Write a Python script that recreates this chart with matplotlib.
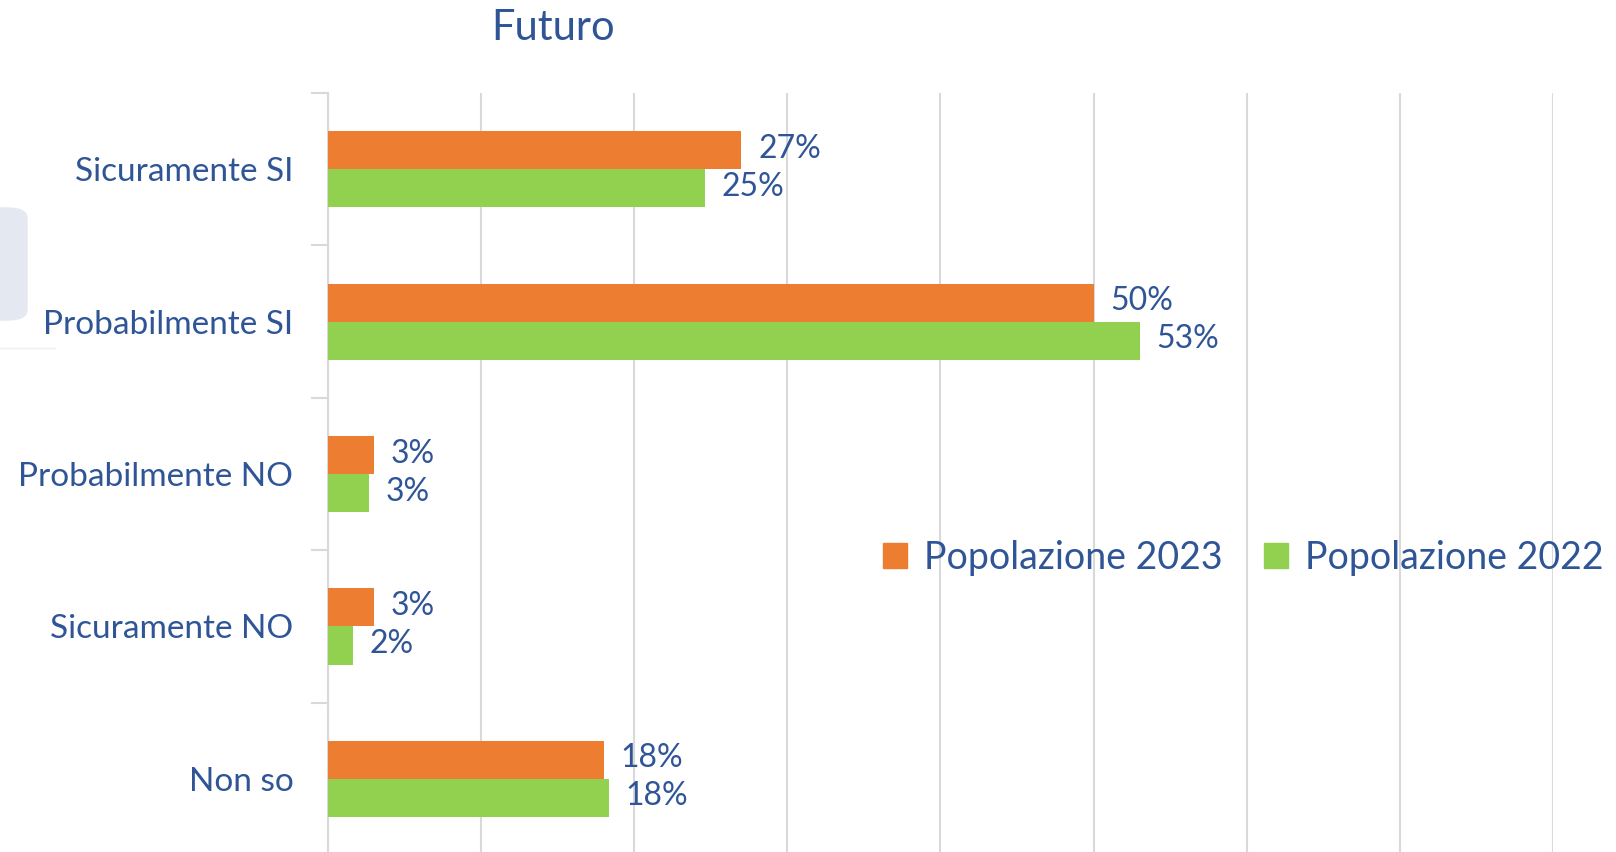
import matplotlib.pyplot as plt
from matplotlib.patches import FancyBboxPatch, Rectangle
from matplotlib.lines import Line2D

categories = ["Sicuramente SI", "Probabilmente SI", "Probabilmente NO", "Sicuramente NO", "Non so"]
pop_2023 = [27.0, 50.0, 3.0, 3.0, 18.0]
pop_2022 = [24.6, 53.0, 2.7, 1.6, 18.35]
series_names = ["Popolazione 2023", "Popolazione 2022"]

orange = '#ED7D31'
green = '#92D050'
txt_col = '#2F5597'
font = 'Lato'

fig = plt.figure(figsize=(16.16, 8.52), dpi=100)
ax = fig.add_axes([328 / 1616, 1 - 855 / 852, (1553 - 328) / 1616, 762 / 852])

y = list(range(len(categories)))
h = 0.25
b1 = ax.barh([v - h / 2 for v in y], pop_2023, height=h, color=orange, zorder=3)
b2 = ax.barh([v + h / 2 for v in y], pop_2022, height=h, color=green, zorder=3)

for bars in (b1, b2):
    for r in bars:
        w = r.get_width()
        ax.annotate(f"{w:.0f}%", (w, r.get_y() + r.get_height() / 2),
                    xytext=(12, 1), textcoords='offset points',
                    va='center', ha='left', fontsize=23, color=txt_col, family=font)

ax.set_xlim(0, 80)
ax.set_ylim(4.5, -0.5)
ax.set_xticks(range(0, 81, 10))
ax.xaxis.grid(True, color='#D9D9D9', linewidth=1.5, zorder=0)
ax.tick_params(axis='x', length=0, labelbottom=False)
ax.set_yticks(y)
ax.set_yticklabels(categories, fontsize=24, color=txt_col, family=font)
for lbl in ax.get_yticklabels():
    lbl.set_y(lbl.get_position()[1])
ax.set_yticks([v - 0.5 for v in y] + [4.5], minor=True)
ax.tick_params(axis='y', which='major', length=0, pad=25)
ax.tick_params(axis='y', which='minor', length=12, color='#D9D9D9', width=1.5)
for s in ['top', 'right', 'bottom']:
    ax.spines[s].set_visible(False)
ax.spines['left'].set_color('#D9D9D9')
ax.spines['left'].set_linewidth(1.5)

fig.text(553 / 1616, 1 - 28 / 852, "Futuro", ha='center', va='center',
         fontsize=30, color=txt_col, family=font)

handles = [Rectangle((0, 0), 1, 1, color=orange), Rectangle((0, 0), 1, 1, color=green)]
fig.legend(handles, series_names, loc='center', bbox_to_anchor=(1243 / 1616, 1 - 558 / 852),
           ncol=2, frameon=False, labelcolor=txt_col,
           prop={'family': font, 'size': 27}, handlelength=0.65,
           handleheight=0.65, handletextpad=0.45, columnspacing=1.1)

# decorative bits on the left edge
fig.patches.append(FancyBboxPatch((-20 / 1616, 1 - 320 / 852), 47 / 1616, 112 / 852,
                                  boxstyle='round,pad=0,rounding_size=0.012',
                                  transform=fig.transFigure, color='#E4E8F0', zorder=0))
fig.lines.append(Line2D([0, 55 / 1616], [1 - 348 / 852] * 2, transform=fig.transFigure,
                        color='#EEEEEE', linewidth=1))

fig.savefig('out.png', dpi=100)
